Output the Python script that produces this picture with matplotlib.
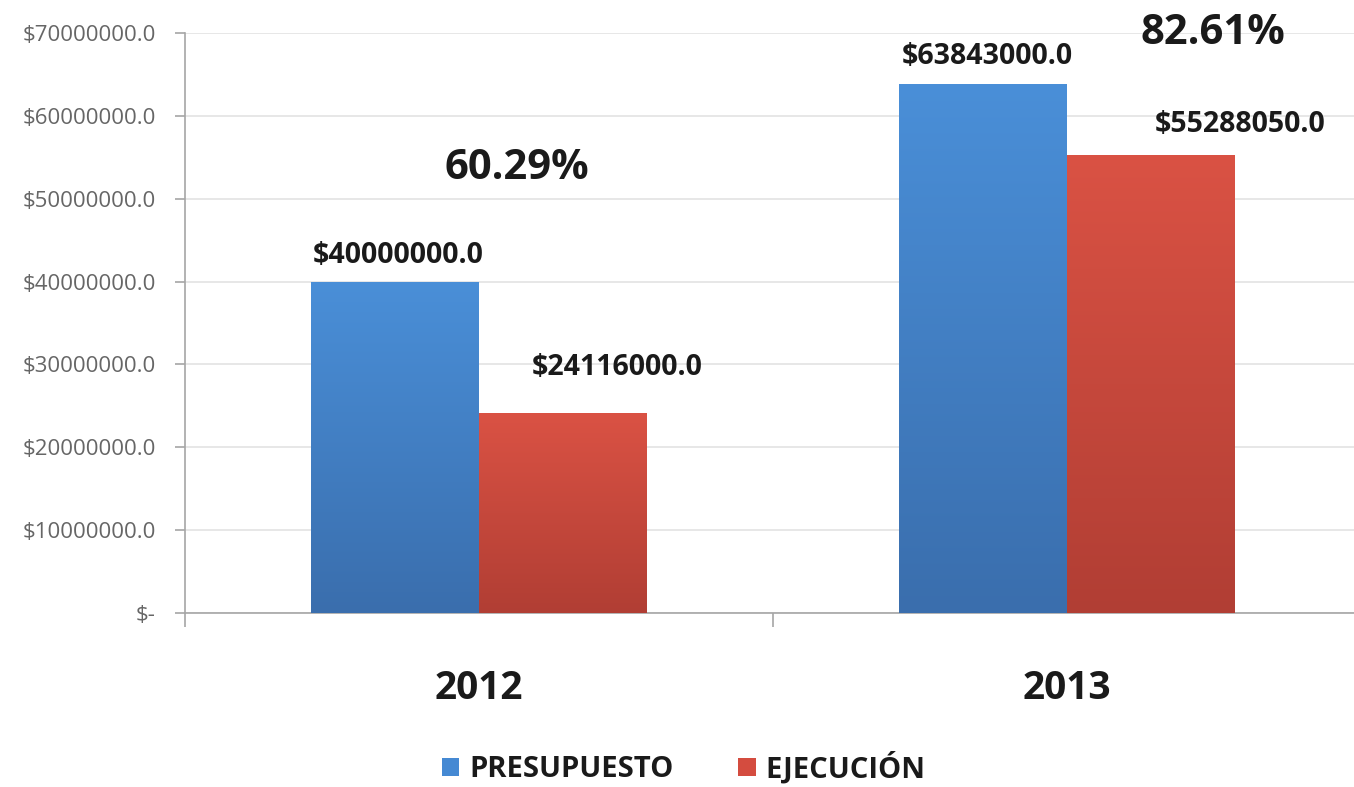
import matplotlib
matplotlib.use("Agg")
import matplotlib.pyplot as plt
import numpy as np
from matplotlib.colors import LinearSegmentedColormap
from matplotlib.patches import Patch

categories = ["2012", "2013"]
presupuesto = [40000000.0, 63843000.0]
ejecucion = [24116000.0, 55288050.0]
percentages = ["60.29%", "82.61%"]
yticks = [0, 10000000, 20000000, 30000000, 40000000, 50000000, 60000000, 70000000]
ytick_labels = ["$-", "$10000000.0", "$20000000.0", "$30000000.0", "$40000000.0",
                "$50000000.0", "$60000000.0", "$70000000.0"]

plt.rcParams['font.family'] = ['Open Sans', 'DejaVu Sans']

fig = plt.figure(figsize=(13.54, 7.87), dpi=100)
ax = fig.add_axes([185/1354, 1-613/787, (1361-185)/1354, (613-33)/787])

x = np.arange(len(categories))
w = 0.285

blue_cmap = LinearSegmentedColormap.from_list("b", ["#3A6EAD", "#4A8FD8"])
red_cmap = LinearSegmentedColormap.from_list("r", ["#B13E34", "#DA5244"])

def grad_bar(xc, h, cmap):
    bars = ax.bar(xc, h, w, color='none', edgecolor='none', zorder=3)
    for b in bars:
        x0 = b.get_x(); x1 = x0 + b.get_width(); top = b.get_height()
        grad = np.linspace(0, 1, 256).reshape(-1, 1)
        im = ax.imshow(grad, cmap=cmap, aspect='auto', origin='lower',
                       extent=[x0, x1, 0, top], zorder=3)
        im.set_clip_path(b)
    return bars

grad_bar(x - w/2, presupuesto, blue_cmap)
grad_bar(x + w/2, ejecucion, red_cmap)
ax.set_xlim(-0.5, 1.5)
ax.set_ylim(0, 70000000)

ax.set_yticks(yticks)
ax.set_yticklabels(ytick_labels, color='#666666', fontsize=16)
ax.yaxis.grid(True, color='#E3E3E3', linewidth=1.2, zorder=0)
ax.set_axisbelow(True)

ax.set_xticks([0, 1])
ax.set_xticklabels(categories, fontsize=28, fontweight='bold', color='#1a1a1a')
ax.set_xticks([-0.5, 0.5, 1.5], minor=True)
ax.tick_params(axis='x', which='major', length=0, pad=40)
ax.tick_params(axis='x', which='minor', length=10, color='#A6A6A6', width=1.2)
ax.tick_params(axis='y', length=7, color='#A6A6A6', width=1.2, pad=14)

for s in ['top', 'right']:
    ax.spines[s].set_visible(False)
for s in ['left', 'bottom']:
    ax.spines[s].set_color('#A6A6A6')
    ax.spines[s].set_linewidth(1.2)

lab_kw = dict(fontsize=20.5, fontweight='bold', color='#1a1a1a', ha='center', va='center')
def fmt(v):
    return "$%.1f" % v

ax.text(-0.138, presupuesto[0] + 3200000, fmt(presupuesto[0]), **lab_kw)
ax.text(0.235, ejecucion[0] + 5500000, fmt(ejecucion[0]), **lab_kw)
ax.text(0.864, presupuesto[1] + 3300000, fmt(presupuesto[1]), **lab_kw)
ax.text(1.294, ejecucion[1] + 3700000, fmt(ejecucion[1]), **lab_kw)

pct_kw = dict(fontsize=30, fontweight='bold', color='#1a1a1a', ha='center', va='center')
ax.text(0.065, 53700000, percentages[0], **pct_kw)
ax.text(1.248, 70000000, percentages[1], **pct_kw)

handles = [Patch(facecolor='#4589D3', label='PRESUPUESTO'),
           Patch(facecolor='#D44C3F', label='EJECUCIÓN')]
leg = fig.legend(handles=handles, loc='center', bbox_to_anchor=(0.505, 1-768/787), ncol=2,
                 frameon=False, prop={'size': 21, 'weight': 'bold'},
                 handlelength=0.6, handleheight=0.6, handletextpad=0.35, columnspacing=2.2,
                 borderpad=0.2)
for t in leg.get_texts():
    t.set_color('#1a1a1a')

fig.savefig("out.png", dpi=100, facecolor='white')
